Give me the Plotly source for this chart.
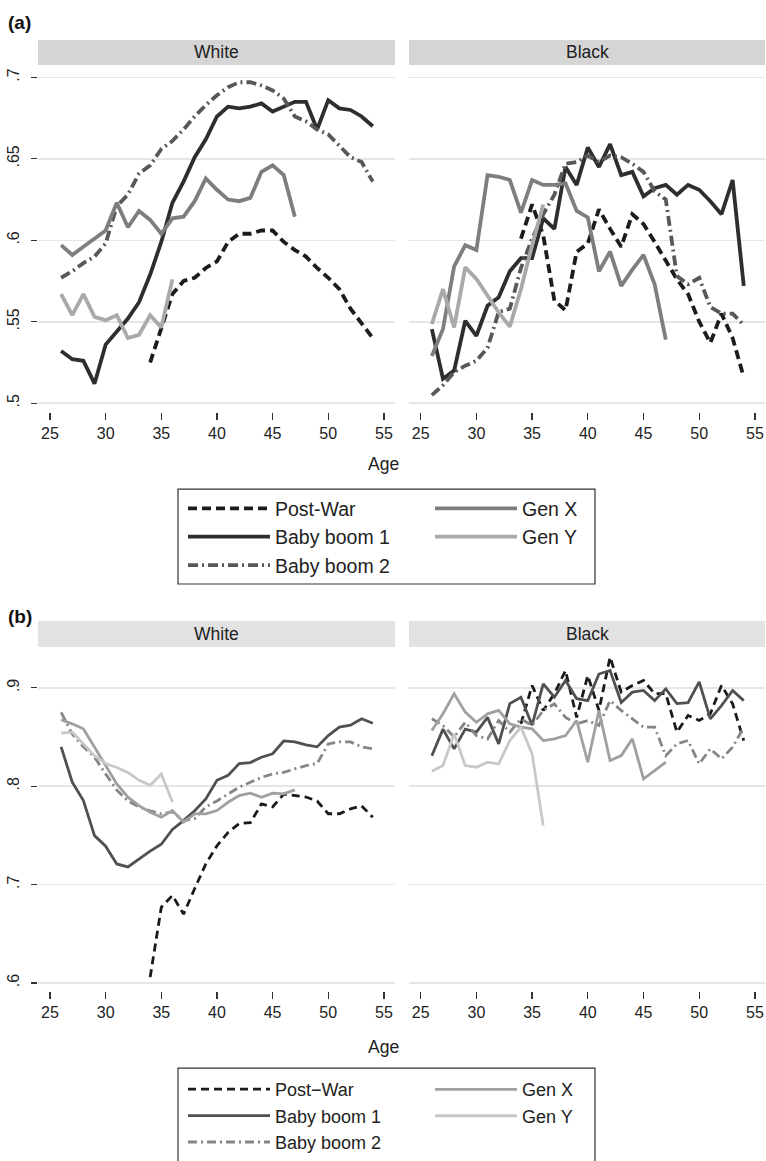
import plotly.graph_objects as go

W, H = 766, 1161

# ---------------- data ----------------
ages_full = list(range(26, 55))     # 26..54
ages_pw = list(range(34, 55))       # 34..54
ages_x = list(range(26, 48))        # 26..47
ages_y = list(range(26, 37))        # 26..36

# panel (a) White
a_white_postwar = [0.525, 0.546, 0.567, 0.575, 0.577, 0.583, 0.587, 0.599, 0.604, 0.604, 0.606,
                   0.606, 0.599, 0.594, 0.590, 0.583, 0.577, 0.570, 0.558, 0.549, 0.540]
a_white_bb1 = [0.532, 0.527, 0.526, 0.512, 0.536, 0.544, 0.552, 0.562, 0.579, 0.599, 0.623, 0.636,
               0.651, 0.662, 0.676, 0.682, 0.681, 0.682, 0.684, 0.679, 0.682, 0.685, 0.685, 0.668,
               0.686, 0.681, 0.680, 0.676, 0.670]
a_white_bb2 = [0.577, 0.581, 0.586, 0.590, 0.598, 0.621, 0.628, 0.641, 0.646, 0.656, 0.661, 0.668,
               0.676, 0.683, 0.689, 0.694, 0.697, 0.697, 0.695, 0.692, 0.687, 0.676, 0.673, 0.668,
               0.665, 0.658, 0.651, 0.648, 0.636]
a_white_genx = [0.597, 0.591, 0.596, 0.601, 0.606, 0.623, 0.608, 0.618, 0.6125, 0.604, 0.6135,
                0.6145, 0.624, 0.638, 0.631, 0.625, 0.624, 0.626, 0.642, 0.646, 0.640, 0.6145]
a_white_geny = [0.567, 0.554, 0.567, 0.553, 0.551, 0.554, 0.540, 0.542, 0.554, 0.5465, 0.576]

# panel (a) Black
a_black_postwar = [0.601, 0.622, 0.603, 0.563, 0.557, 0.593, 0.598, 0.619, 0.607, 0.596, 0.616,
                   0.610, 0.599, 0.587, 0.576, 0.567, 0.550, 0.537, 0.555, 0.540, 0.516]
a_black_bb1 = [0.5455, 0.515, 0.520, 0.5506, 0.5414, 0.5598, 0.565, 0.581, 0.589, 0.589, 0.6135,
               0.607, 0.645, 0.634, 0.657, 0.645, 0.659, 0.640, 0.642, 0.627, 0.632, 0.634, 0.628,
               0.634, 0.631, 0.624, 0.616, 0.637, 0.572]
a_black_bb2 = [0.505, 0.511, 0.519, 0.523, 0.526, 0.534, 0.556, 0.558, 0.583, 0.601, 0.616, 0.628,
               0.647, 0.648, 0.652, 0.648, 0.652, 0.651, 0.647, 0.642, 0.630, 0.625, 0.578, 0.573,
               0.577, 0.559, 0.555, 0.555, 0.548]
a_black_genx = [0.529, 0.5455, 0.584, 0.597, 0.594, 0.640, 0.639, 0.637, 0.617, 0.637, 0.634,
                0.634, 0.635, 0.618, 0.614, 0.581, 0.593, 0.572, 0.582, 0.591, 0.573, 0.539]
a_black_geny = [0.5486, 0.570, 0.5465, 0.5834, 0.5762, 0.566, 0.5557, 0.547, 0.570, 0.597, 0.622]

# panel (b) White
b_white_postwar = [0.606, 0.677, 0.689, 0.670, 0.696, 0.721, 0.7395, 0.753, 0.762, 0.763, 0.782,
                   0.779, 0.792, 0.7905, 0.789, 0.785, 0.772, 0.772, 0.777, 0.780, 0.7685]
b_white_bb1 = [0.840, 0.804, 0.7854, 0.7498, 0.739, 0.721, 0.718, 0.726, 0.734, 0.741, 0.756,
               0.765, 0.775, 0.787, 0.806, 0.811, 0.823, 0.824, 0.8295, 0.833, 0.846, 0.845,
               0.842, 0.840, 0.8515, 0.860, 0.862, 0.8685, 0.864]
b_white_bb2 = [0.875, 0.853, 0.840, 0.8295, 0.8125, 0.796, 0.785, 0.779, 0.775, 0.772, 0.774,
               0.765, 0.767, 0.779, 0.785, 0.792, 0.799, 0.804, 0.809, 0.8125, 0.814, 0.8176,
               0.821, 0.823, 0.843, 0.845, 0.845, 0.840, 0.838]
b_white_genx = [0.8675, 0.8634, 0.8583, 0.8397, 0.821, 0.8024, 0.7888, 0.7803, 0.7736, 0.7685,
                0.7753, 0.7634, 0.7719, 0.7719, 0.7753, 0.7837, 0.7905, 0.793, 0.7888, 0.793,
                0.7922, 0.7963]
b_white_geny = [0.854, 0.855, 0.843, 0.831, 0.823, 0.819, 0.814, 0.806, 0.801, 0.8125, 0.784]

# panel (b) Black
b_black_postwar = [0.8634, 0.9024, 0.877, 0.894, 0.9176, 0.870, 0.9125, 0.877, 0.9312, 0.8956,
                   0.9024, 0.9075, 0.894, 0.894, 0.855, 0.8719, 0.8668, 0.8736, 0.9024, 0.8837,
                   0.8464]
b_black_bb1 = [0.831, 0.858, 0.838, 0.858, 0.855, 0.870, 0.843, 0.884, 0.8905, 0.862, 0.904,
               0.8905, 0.9075, 0.889, 0.887, 0.914, 0.9176, 0.885, 0.8956, 0.8973, 0.887, 0.899,
               0.884, 0.885, 0.906, 0.8685, 0.882, 0.8973, 0.887]
b_black_bb2 = [0.8685, 0.8617, 0.850, 0.865, 0.8515, 0.848, 0.8668, 0.855, 0.8685, 0.8617, 0.877,
               0.8837, 0.870, 0.8634, 0.8668, 0.8617, 0.887, 0.877, 0.8685, 0.860, 0.860, 0.831,
               0.843, 0.8465, 0.8227, 0.838, 0.8278, 0.8397, 0.860]
b_black_genx = [0.8566, 0.8736, 0.8939, 0.8753, 0.865, 0.8736, 0.877, 0.8634, 0.860, 0.8583,
                0.8464, 0.8481, 0.8515, 0.8668, 0.8244, 0.877, 0.8261, 0.8312, 0.8481, 0.8075,
                0.8159, 0.8244]
b_black_geny = [0.8153, 0.821, 0.8532, 0.821, 0.8193, 0.8244, 0.8227, 0.8464, 0.860, 0.8329, 0.760]

x_ticks = [25, 30, 35, 40, 45, 50, 55]
a_yticks = [0.5, 0.55, 0.6, 0.65, 0.7]
a_yticktext = [".5", ".55", ".6", ".65", ".7"]
b_yticks = [0.6, 0.7, 0.8, 0.9]
b_yticktext = [".6", ".7", ".8", ".9"]

names_a = ["Post-War", "Baby boom 1", "Baby boom 2", "Gen X", "Gen Y"]
names_b = ["Post\u2212War", "Baby boom 1", "Baby boom 2", "Gen X", "Gen Y"]

# ---------------- helpers ----------------
def px_x(p):
    return p / W

def px_y(p):
    return 1 - p / H

FONT = "Liberation Sans, Arial, Helvetica, sans-serif"

styles_a = [
    dict(color="#1c1c1c", dash="9px,5px", width=3.8),
    dict(color="#2e2e2e", dash="solid", width=3.8),
    dict(color="#585858", dash="10px,4px,2px,4px", width=3.8),
    dict(color="#7e7e7e", dash="solid", width=3.8),
    dict(color="#a9a9a9", dash="solid", width=3.8),
]
styles_b = [
    dict(color="#1a1a1a", dash="8px,5px", width=2.8),
    dict(color="#505050", dash="solid", width=2.8),
    dict(color="#858585", dash="9px,4px,2px,4px", width=2.8),
    dict(color="#a0a0a0", dash="solid", width=2.8),
    dict(color="#c8c8c8", dash="solid", width=2.8),
]

fig = go.Figure()

def add_panel(series, xa, ya, names, styles, legends, showlegend):
    xs = [ages_pw, ages_full, ages_full, ages_x, ages_y]
    for i, (x, y) in enumerate(zip(xs, series)):
        fig.add_trace(go.Scatter(
            x=x, y=y, mode="lines", name=names[i], line=styles[i],
            xaxis=xa, yaxis=ya, legend=legends[0] if i < 3 else legends[1],
            showlegend=showlegend, hoverinfo="skip"))

add_panel([a_white_postwar, a_white_bb1, a_white_bb2, a_white_genx, a_white_geny],
          "x", "y", names_a, styles_a, ("legend", "legend3"), True)
add_panel([a_black_postwar, a_black_bb1, a_black_bb2, a_black_genx, a_black_geny],
          "x2", "y2", names_a, styles_a, ("legend", "legend3"), False)
add_panel([b_white_postwar, b_white_bb1, b_white_bb2, b_white_genx, b_white_geny],
          "x3", "y3", names_b, styles_b, ("legend2", "legend4"), True)
add_panel([b_black_postwar, b_black_bb1, b_black_bb2, b_black_genx, b_black_geny],
          "x4", "y4", names_b, styles_b, ("legend2", "legend4"), False)

# geometry (pixels)
WL, WR = 38, 395      # white panel
BL, BR = 409, 765     # black panel
A_TOP, A_BOT = 68, 411
B_TOP, B_BOT = 652, 991

def xr(left_px, x25_px, scale, right_px):
    return [25 + (left_px - x25_px) / scale, 25 + (right_px - x25_px) / scale]

xrange_w = xr(WL, 50.0, 11.13, WR)
xrange_b = xr(BL, 420.7, 11.14, BR)

a_scale = 0.05 / 81.6
a_yrange = [0.7 - (A_BOT - 75.5) * a_scale, 0.7 - (A_TOP - 75.5) * a_scale]
b_scale = 1 / 985.7
b_yrange = [0.9 - (B_BOT - 687) * b_scale, 0.9 - (B_TOP - 687) * b_scale]

tickfont = dict(family=FONT, size=16, color="#222")
common_x = dict(tickvals=x_ticks, ticks="outside", ticklen=7, tickwidth=1.2, tickcolor="#333",
                showgrid=False, zeroline=False, showline=False, tickfont=tickfont,
                ticklabeloverflow="allow")
common_y = dict(showgrid=True, gridcolor="#e6e6e6", gridwidth=1.5, zeroline=False,
                showline=False, tickfont=tickfont)

fig.update_layout(
    xaxis=dict(domain=[px_x(WL), px_x(WR)], range=xrange_w, anchor="y", **common_x),
    xaxis2=dict(domain=[px_x(BL), px_x(BR)], range=xrange_b, anchor="y2", **common_x),
    xaxis3=dict(domain=[px_x(WL), px_x(WR)], range=xrange_w, anchor="y3", **common_x),
    xaxis4=dict(domain=[px_x(BL), px_x(BR)], range=xrange_b, anchor="y4", **common_x),
    yaxis=dict(domain=[px_y(A_BOT), px_y(A_TOP)], range=a_yrange, anchor="x",
               tickvals=a_yticks, ticktext=a_yticktext, ticks="outside", ticklen=6,
               tickwidth=1.2, tickcolor="#333", tickangle=-90, ticklabelstandoff=6,
               **common_y),
    yaxis2=dict(domain=[px_y(A_BOT), px_y(A_TOP)], range=a_yrange, anchor="x2",
                tickvals=a_yticks, showticklabels=False, ticks="", **common_y),
    yaxis3=dict(domain=[px_y(B_BOT), px_y(B_TOP)], range=b_yrange, anchor="x3",
                tickvals=b_yticks, ticktext=b_yticktext, ticks="outside", ticklen=6,
                tickwidth=1.2, tickcolor="#333", tickangle=-90, ticklabelstandoff=6,
                **common_y),
    yaxis4=dict(domain=[px_y(B_BOT), px_y(B_TOP)], range=b_yrange, anchor="x4",
                tickvals=b_yticks, showticklabels=False, ticks="", **common_y),
)

# strips
shapes = []
annotations = []
for (l, r, t, b, col, label) in [
        (WL, WR, 38, 63, "#d5d5d5", "White"), (BL, BR, 38, 63, "#d5d5d5", "Black"),
        (WL, WR, 620, 646, "#e2e2e2", "White"), (BL, BR, 620, 646, "#e2e2e2", "Black")]:
    shapes.append(dict(type="rect", xref="paper", yref="paper",
                       x0=px_x(l), x1=px_x(r), y0=px_y(b), y1=px_y(t),
                       fillcolor=col, line=dict(width=0), layer="below"))
    annotations.append(dict(text=label, xref="paper", yref="paper",
                            x=px_x((l + r) / 2), y=px_y((t + b) / 2),
                            xanchor="center", yanchor="middle", showarrow=False,
                            font=dict(family=FONT, size=17.5, color="#222")))

# legend boxes
shapes.append(dict(type="rect", xref="paper", yref="paper",
                   x0=px_x(178), x1=px_x(595), y0=px_y(583), y1=px_y(488),
                   line=dict(color="#333", width=1.2), fillcolor="rgba(0,0,0,0)"))
shapes.append(dict(type="rect", xref="paper", yref="paper",
                   x0=px_x(178), x1=px_x(595), y0=px_y(1175), y1=px_y(1068),
                   line=dict(color="#333", width=1.2), fillcolor="rgba(0,0,0,0)"))

# panel labels and axis titles
for txt, y in [("<b>(a)</b>", 21), ("<b>(b)</b>", 616)]:
    annotations.append(dict(text=txt, xref="paper", yref="paper", x=px_x(6), y=px_y(y),
                            xanchor="left", yanchor="middle", showarrow=False,
                            font=dict(family=FONT, size=19, color="#111")))
for y in [463, 1047]:
    annotations.append(dict(text="Age", xref="paper", yref="paper", x=px_x(383), y=px_y(y),
                            xanchor="center", yanchor="middle", showarrow=False,
                            font=dict(family=FONT, size=17.5, color="#222")))

legend_common = dict(orientation="v", xanchor="left", yanchor="top",
                     bgcolor="rgba(0,0,0,0)", borderwidth=0, itemwidth=82,
                     traceorder="normal", itemclick=False, itemdoubleclick=False)
fa = dict(family=FONT, size=19.5, color="#222")
fb = dict(family=FONT, size=18, color="#222")

fig.update_layout(
    width=W, height=H,
    margin=dict(l=0, r=0, t=0, b=0),
    paper_bgcolor="white", plot_bgcolor="white",
    font=dict(family=FONT, color="#222"),
    shapes=shapes, annotations=annotations,
    legend=dict(x=px_x(183), y=px_y(488), font=fa, **legend_common),
    legend3=dict(x=px_x(430), y=px_y(488), font=fa, **legend_common),
    legend2=dict(x=px_x(183), y=px_y(1071), font=fb, **legend_common),
    legend4=dict(x=px_x(430), y=px_y(1071), font=fb, **legend_common),
)

fig.write_html("out.html",
               config={"displayModeBar": False, "staticPlot": True},
               post_script="document.body.style.margin='0';"
                           "document.body.style.overflow='hidden';")
